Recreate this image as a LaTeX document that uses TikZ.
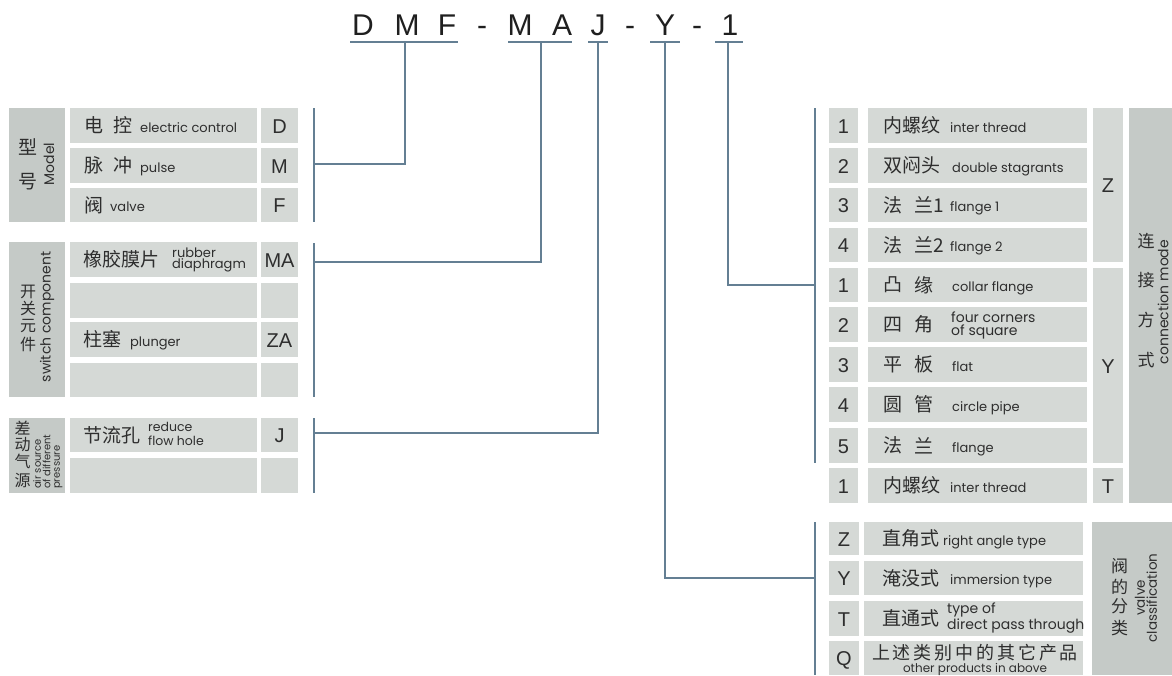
\documentclass[tikz,border=0pt]{standalone}
\usepackage{fontspec}
\setmainfont{Liberation Sans}
\newfontfamily\cjk{Noto Sans CJK SC}
\newfontfamily\cjkw{Noto Sans CJK SC}[LetterSpace=16]
\newfontfamily\en{Poppins}
\usetikzlibrary{fit}
\definecolor{cellc}{HTML}{D5D9D6}
\definecolor{headc}{HTML}{C5CAC7}
\definecolor{linec}{HTML}{647F93}
\definecolor{txt}{HTML}{2E2E2E}
\newcommand\bx[6]{\node[#6,fit={(#2,#3) (#4,#5)}] (#1) {};}
\tikzset{
 cell/.style={fill=cellc, inner sep=0pt},
 head/.style={fill=headc, inner sep=0pt},
 cn/.style={font={\cjk\fontsize{19}{19}\selectfont}, text=txt, inner sep=0pt, anchor=west},
 hcn/.style={font={\cjk\fontsize{17}{17}\selectfont}, text=txt, inner sep=0pt},
 en/.style={font={\en\fontsize{13}{13}\selectfont}, text=txt, inner sep=0pt, anchor=base west},
 en2/.style={font={\en\fontsize{13}{11.5}\selectfont}, text=txt, inner sep=0pt, anchor=west, align=left},
 rot/.style={font={\en\fontsize{14}{14}\selectfont}, text=txt, inner sep=0pt, rotate=90},
 code/.style={font={\fontsize{20}{20}\selectfont}, text=txt, inner sep=0pt, anchor=base},
 big/.style={font={\fontsize{30}{30}\selectfont}, text=black!88, inner sep=0pt, anchor=base},
 conn/.style={draw=linec, line width=2pt},
}
\begin{document}
\begin{tikzpicture}[x=1pt,y=-1pt]
\useasboundingbox (0,0) rectangle (1172,675);
% ---------- title code ----------
\node[big] (tD) at (363,35) {D};
\node[big] (tM) at (407,35) {M};
\node[big] (tF) at (447,35) {F};
\node[big] (th1) at (482,35) {-};
\node[big] (tM2) at (520,35) {M};
\node[big] (tA) at (562,35) {A};
\node[big] (tJ) at (598,35) {J};
\node[big] (th2) at (630,35) {-};
\node[big] (tY) at (665,35) {Y};
\node[big] (th3) at (697,35) {-};
\node[big] (t1) at (730,35) {1};
\coordinate (uDMFl) at (350,42); \coordinate (uDMFr) at (458,42); \coordinate (jDMF) at (405,42);
\coordinate (uMAl) at (508,42); \coordinate (uMAr) at (572,42); \coordinate (jMA) at (541,42);
\coordinate (uJl) at (588,42); \coordinate (uJr) at (608,42); \coordinate (jJ) at (598,42);
\coordinate (uYl) at (650,42); \coordinate (uYr) at (680,42); \coordinate (jY) at (665,42);
\coordinate (u1l) at (715,42); \coordinate (u1r) at (743,42); \coordinate (j1) at (728,42);
\draw[conn] (uDMFl) -- (uDMFr);
\draw[conn] (uMAl) -- (uMAr);
\draw[conn] (uJl) -- (uJr);
\draw[conn] (uYl) -- (uYr);
\draw[conn] (u1l) -- (u1r);
% ---------- left: model ----------
\bx{hM}{9}{108}{65}{222}{head}
\node[hcn, font={\cjk\fontsize{19}{19}\selectfont}] (hM1) at (28,147) {型};
\node[hcn, font={\cjk\fontsize{19}{19}\selectfont}] (hM2) at (28,182) {号};
\node[rot] (hM3) at (49,164) {Model};
\bx{mD}{70}{108}{257}{143}{cell} \bx{cD}{261}{108}{298}{143}{cell}
\bx{mM}{70}{148}{257}{183}{cell} \bx{cM}{261}{148}{298}{183}{cell}
\bx{mF}{70}{188}{257}{222}{cell} \bx{cF}{261}{188}{298}{222}{cell}
\node[cn] (mD1) at (84,125.5) {电};
\node[cn] (mD2) at (113,125.5) {控};
\node[en] (mD3) at (140,132) {electric control};
\node[code] (cD1) at (279.5,133) {D};
\node[cn] (mM1) at (84,165.5) {脉};
\node[cn] (mM2) at (113,165.5) {冲};
\node[en] (mM3) at (140,172) {pulse};
\node[code] (cM1) at (279.5,173) {M};
\node[cn] (mF1) at (84,205) {阀};
\node[en] (mF3) at (110,211.5) {valve};
\node[code] (cF1) at (279.5,212.5) {F};
% ---------- left: switch component ----------
\bx{hS}{9}{242}{65}{397}{head}
\node[hcn, font={\cjk\fontsize{16}{16}\selectfont}] (hS1) at (28,291.5) {开};
\node[hcn, font={\cjk\fontsize{16}{16}\selectfont}] (hS2) at (28,308.5) {关};
\node[hcn, font={\cjk\fontsize{16}{16}\selectfont}] (hS3) at (28,326) {元};
\node[hcn, font={\cjk\fontsize{16}{16}\selectfont}] (hS4) at (28,344.5) {件};
\node[rot] (hS5) at (47,317) {switch component};
\bx{sA}{70}{242}{257}{277}{cell} \bx{csA}{261}{242}{298}{277}{cell}
\bx{sB}{70}{283}{257}{318}{cell} \bx{csB}{261}{283}{298}{318}{cell}
\bx{sC}{70}{322}{257}{357}{cell} \bx{csC}{261}{322}{298}{357}{cell}
\bx{sD}{70}{363}{257}{397}{cell} \bx{csD}{261}{363}{298}{397}{cell}
\node[cn] (sA1) at (83,259.5) {橡胶膜片};
\node[en2] (sA2) at (172,260) {rubber\\diaphragm};
\node[code] (csA1) at (279.5,267) {MA};
\node[cn] (sC1) at (83,339.5) {柱塞};
\node[en] (sC2) at (130,346) {plunger};
\node[code] (csC1) at (279.5,347) {ZA};
% ---------- left: differential pressure ----------
\bx{hJ}{9}{418}{65}{493}{head}
\node[hcn, font={\cjk\fontsize{16}{16}\selectfont}] (hJ1) at (22.5,428.5) {差};
\node[hcn, font={\cjk\fontsize{16}{16}\selectfont}] (hJ2) at (22.5,444.5) {动};
\node[hcn, font={\cjk\fontsize{16}{16}\selectfont}] (hJ3) at (22.5,461.5) {气};
\node[hcn, font={\cjk\fontsize{16}{16}\selectfont}] (hJ4) at (22.5,480.5) {源};
\node[rot, font={\en\fontsize{10}{9.5}\selectfont}, align=left, anchor=north west] (hJ5) at (33,489) {air source\\of different\\pressure};
\bx{jA}{70}{418}{257}{452}{cell} \bx{cjA}{261}{418}{298}{452}{cell}
\bx{jB}{70}{458}{257}{493}{cell} \bx{cjB}{261}{458}{298}{493}{cell}
\node[cn] (jA1) at (83,435) {节流孔};
\node[en, font={\en\fontsize{12.5}{12.5}\selectfont}] (jA2) at (148,431.5) {reduce};
\node[en, font={\en\fontsize{12.5}{12.5}\selectfont}] (jA3) at (148,445.5) {flow hole};
\node[code] (cjA1) at (279.5,442.5) {J};
% left group lines
\coordinate (gMt) at (314,108); \coordinate (gMb) at (314,222); \coordinate (gM) at (314,164);
\coordinate (gSt) at (314,243); \coordinate (gSb) at (314,397); \coordinate (gS) at (314,262);
\coordinate (gJt) at (314,418); \coordinate (gJb) at (314,493); \coordinate (gJ) at (314,433);
\draw[conn] (gMt) -- (gMb);
\draw[conn] (gSt) -- (gSb);
\draw[conn] (gJt) -- (gJb);
\draw[conn] (jDMF) |- (gM);
\draw[conn] (jMA) |- (gS);
\draw[conn] (jJ) |- (gJ);
% ---------- right: connection mode ----------
\bx{n1}{829}{108}{858}{143}{cell} \bx{x1}{868}{108}{1087}{143}{cell}
\bx{n2}{829}{148}{858}{183}{cell} \bx{x2}{868}{148}{1087}{183}{cell}
\bx{n3}{829}{188}{858}{222}{cell} \bx{x3}{868}{188}{1087}{222}{cell}
\bx{n4}{829}{228}{858}{262}{cell} \bx{x4}{868}{228}{1087}{262}{cell}
\bx{n5}{829}{268}{858}{302}{cell} \bx{x5}{868}{268}{1087}{302}{cell}
\bx{n6}{829}{307}{858}{342}{cell} \bx{x6}{868}{307}{1087}{342}{cell}
\bx{n7}{829}{347}{858}{382}{cell} \bx{x7}{868}{347}{1087}{382}{cell}
\bx{n8}{829}{387}{858}{422}{cell} \bx{x8}{868}{387}{1087}{422}{cell}
\bx{n9}{829}{428}{858}{463}{cell} \bx{x9}{868}{428}{1087}{463}{cell}
\bx{n10}{829}{468}{858}{503}{cell} \bx{x10}{868}{468}{1087}{503}{cell}
\bx{gZ}{1093}{108}{1123}{262}{cell}
\bx{gY}{1093}{268}{1123}{463}{cell}
\bx{gT}{1093}{468}{1123}{503}{cell}
\bx{hC}{1129}{108}{1172}{503}{head}
\node[code] (n1t) at (843.5,133) {1};
\node[code] (n2t) at (843.5,173) {2};
\node[code] (n3t) at (843.5,212.5) {3};
\node[code] (n4t) at (843.5,252.5) {4};
\node[code] (n5t) at (843.5,292.5) {1};
\node[code] (n6t) at (843.5,332) {2};
\node[code] (n7t) at (843.5,372) {3};
\node[code] (n8t) at (843.5,412) {4};
\node[code] (n9t) at (843.5,453) {5};
\node[code] (n10t) at (843.5,493) {1};
\node[cn] (x1a) at (883,125.5) {内螺纹};
\node[en] (x1b) at (950,132) {inter thread};
\node[cn] (x2a) at (883,165.5) {双闷头};
\node[en] (x2b) at (952,172) {double stagrants};
\node[cn] (x3a) at (883,205) {法};
\node[cn] (x3c) at (914,205) {兰1};
\node[en] (x3b) at (950,211.5) {flange 1};
\node[cn] (x4a) at (883,245) {法};
\node[cn] (x4c) at (914,245) {兰2};
\node[en] (x4b) at (950,251.5) {flange 2};
\node[cn] (x5a) at (883,285) {凸};
\node[cn] (x5c) at (914,285) {缘};
\node[en] (x5b) at (952,291.5) {collar flange};
\node[cn] (x6a) at (883,324.5) {四};
\node[cn] (x6c) at (914,324.5) {角};
\node[en2, font={\en\fontsize{14}{13}\selectfont}] (x6b) at (951,325) {four corners\\of square};
\node[cn] (x7a) at (883,364.5) {平};
\node[cn] (x7c) at (914,364.5) {板};
\node[en] (x7b) at (952,371) {flat};
\node[cn] (x8a) at (883,404.5) {圆};
\node[cn] (x8c) at (914,404.5) {管};
\node[en] (x8b) at (952,411) {circle pipe};
\node[cn] (x9a) at (883,445.5) {法};
\node[cn] (x9c) at (914,445.5) {兰};
\node[en] (x9b) at (952,452) {flange};
\node[cn] (x10a) at (883,485.5) {内螺纹};
\node[en] (x10b) at (950,492) {inter thread};
\node[code] (gZt) at (1108,192.5) {Z};
\node[code] (gYt) at (1108,373) {Y};
\node[code] (gTt) at (1108,493) {T};
\node[hcn] (hC1) at (1146,241) {连};
\node[hcn] (hC2) at (1146,280) {接};
\node[hcn] (hC3) at (1146,320) {方};
\node[hcn] (hC4) at (1146,360) {式};
\node[rot] (hC5) at (1163,302) {connection mode};
\coordinate (gCt) at (815,108); \coordinate (gCb) at (815,463); \coordinate (gC) at (815,285);
\draw[conn] (gCt) -- (gCb);
\draw[conn] (j1) |- (gC);
% ---------- right: valve classification ----------
\bx{v1}{829}{522}{859}{555}{cell} \bx{w1}{864}{522}{1083}{555}{cell}
\bx{v2}{829}{561}{859}{595}{cell} \bx{w2}{864}{561}{1083}{595}{cell}
\bx{v3}{829}{601}{859}{636}{cell} \bx{w3}{864}{601}{1083}{636}{cell}
\bx{v4}{829}{641}{859}{675}{cell} \bx{w4}{864}{641}{1083}{675}{cell}
\bx{hV}{1092}{522}{1172}{675}{head}
\node[code] (v1t) at (844,546) {Z};
\node[code] (v2t) at (844,585.5) {Y};
\node[code] (v3t) at (844,626) {T};
\node[code] (v4t) at (844,665.5) {Q};
\node[cn] (w1a) at (882,538.5) {直角式};
\node[en] (w1b) at (943,545) {right angle type};
\node[cn] (w2a) at (882,578) {淹没式};
\node[en] (w2b) at (950,584.5) {immersion type};
\node[cn] (w3a) at (882,618.5) {直通式};
\node[en2, font={\en\fontsize{14}{12.5}\selectfont}] (w3b) at (947,618) {type of\\direct pass through};
\node[hcn, font={\cjkw\fontsize{18}{18}\selectfont}] (w4a) at (975,653) {上述类别中的其它产品};
\node[en, anchor=base, font={\en\fontsize{12}{12}\selectfont}] (w4b) at (975,672) {other products in above};
\node[hcn] (hV1) at (1119.5,566.5) {阀};
\node[hcn] (hV2) at (1119.5,586.5) {的};
\node[hcn] (hV3) at (1119.5,606.5) {分};
\node[hcn] (hV4) at (1119.5,628) {类};
\node[rot, font={\en\fontsize{13.5}{12}\selectfont}, align=center] (hV5) at (1146,598) {valve\\classification};
\coordinate (gVt) at (815,522); \coordinate (gVb) at (815,675); \coordinate (gV) at (815,578);
\draw[conn] (gVt) -- (gVb);
\draw[conn] (jY) |- (gV);
\end{tikzpicture}
\end{document}
